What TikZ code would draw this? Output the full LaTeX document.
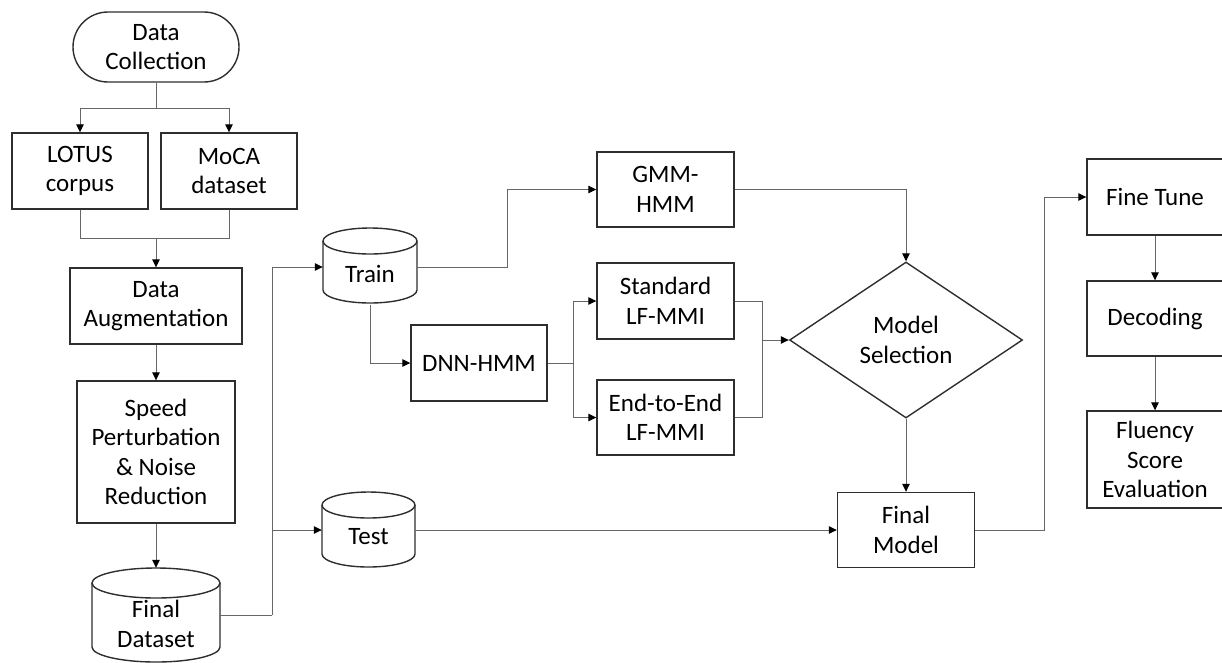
\documentclass[tikz,border=0pt]{standalone}
\usepackage{fontspec}
\setmainfont{Carlito}
\usetikzlibrary{shapes.geometric,arrows.meta,calc}

\definecolor{edge}{HTML}{2E2E2E}
\definecolor{wire}{HTML}{666666}

\tikzset{
  txt/.style={font=\fontsize{25}{29.5}\selectfont, align=center, text=black, inner sep=0pt},
  box/.style={txt, draw=edge, line width=1.4pt, rectangle, minimum width=#1},
  box/.default=137pt,
  outline/.style={draw=edge, line width=1.4pt},
  wirepath/.style={draw=wire, line width=1pt},
  arrowpath/.style={wirepath, -{Triangle[length=8pt,width=7.5pt,color=black]}},
  anchorbox/.style={rectangle, draw=none, inner sep=0pt},
}

\begin{document}
\begin{tikzpicture}[x=1pt,y=-1pt]
\useasboundingbox (0,0) rectangle (1222,662);

% ---- left column ----
\node[box=166pt, minimum height=70pt, rounded corners=35pt] (dc) at (156,47) {Data\\Collection};
\node[box=136pt, minimum height=76pt] (lotus) at (80,171) {LOTUS\\corpus};
\node[box=136pt, minimum height=76pt] (moca) at (229,171) {MoCA\\dataset};
\node[box=172pt, minimum height=76pt] (aug) at (156,306) {Data\\Augmentation};
\node[box=158pt, minimum height=142pt] (speed) at (156,452) {Speed\\Perturbation\\\& Noise\\Reduction};

% final dataset cylinder
\node[anchorbox, minimum width=128pt, minimum height=94pt] (fds) at (156,615) {};
\draw[outline, fill=white] (92,583) -- (92,647) arc[start angle=180, end angle=360, x radius=64pt, y radius=15pt] -- (220,583);
\draw[outline] (156,583) ellipse[x radius=64pt, y radius=15pt];
\node[txt] (fdstext) at (156,624) {Final\\Dataset};

% ---- data split ----
\node[anchorbox, minimum width=94pt, minimum height=75pt] (train) at (370,267) {};
\draw[outline] (323,241) -- (323,290) arc[start angle=180, end angle=360, x radius=47pt, y radius=13pt] -- (417,241);
\draw[outline] (370,241) ellipse[x radius=47pt, y radius=13pt];
\node[txt] (traintext) at (370,274) {Train};

\node[anchorbox, minimum width=93pt, minimum height=75pt] (test) at (368.5,530) {};
\draw[outline] (322,505) -- (322,554) arc[start angle=180, end angle=360, x radius=46.5pt, y radius=13pt] -- (415,505);
\draw[outline] (368.5,505) ellipse[x radius=46.5pt, y radius=13pt];
\node[txt] (testtext) at (368.5,537) {Test};

% ---- acoustic models ----
\node[box=136pt, minimum height=76pt] (dnn) at (479,363) {DNN-HMM};
\node[box, minimum height=75pt] (gmm) at (665.5,189.5) {GMM-\\HMM};
\node[box, minimum height=76pt] (std) at (665.5,301) {Standard\\LF-MMI};
\node[box, minimum height=75pt] (e2e) at (665.5,417.5) {End-to-End\\LF-MMI};

\node[txt, draw=edge, line width=1.4pt, diamond, aspect=1.49, minimum width=233pt, minimum height=156pt] (sel) at (906,340) {Model\\Selection};
\node[box, minimum height=75pt] (fm) at (906,530) {Final\\Model};

% ---- evaluation column ----
\node[box=136pt, minimum height=76pt] (ft) at (1155,197) {Fine Tune};
\node[box=136pt, minimum height=75pt] (dec) at (1155,318.5) {Decoding};
\node[box=136pt, minimum height=97pt] (flu) at (1155,459.5) {Fluency\\Score\\Evaluation};

% ---- connectors ----
\draw[arrowpath] (dc.south) -- ++(0,26) coordinate (fork) -| (lotus.north);
\draw[arrowpath] (fork) -| (moca.north);

\coordinate (merge) at (156,238);
\draw[wirepath] (lotus.south) |- (merge);
\draw[wirepath] (moca.south) |- (merge);
\draw[arrowpath] (merge) -- (aug.north);

\draw[arrowpath] (aug.south) -- (speed.north);
\draw[arrowpath] (speed.south) -- (fds.north);

\draw[wirepath] (fds.east) -- ++(52,0) coordinate (split);
\draw[arrowpath] (split) |- (train.west);
\draw[arrowpath] (split) |- (test.west);

\draw[arrowpath] (train.east) -- ++(90,0) |- (gmm.west);
\draw[arrowpath] (train.south) |- (dnn.west);

\draw[wirepath] (dnn.east) -- ++(26,0) coordinate (branch);
\draw[arrowpath] (branch) |- (std.west);
\draw[arrowpath] (branch) |- (e2e.west);

\coordinate (join) at (762,340);
\draw[wirepath] (std.east) -| (join);
\draw[wirepath] (e2e.east) -| (join);
\draw[arrowpath] (join) -- (sel.west);

\draw[arrowpath] (gmm.east) -| (sel.north);
\draw[arrowpath] (sel.south) -- (fm.north);
\draw[arrowpath] (test.east) -- (fm.west);

\draw[arrowpath] (fm.east) -- ++(69,0) |- (ft.west);
\draw[arrowpath] (ft.south) -- (dec.north);
\draw[arrowpath] (dec.south) -- (flu.north);
\end{tikzpicture}
\end{document}
